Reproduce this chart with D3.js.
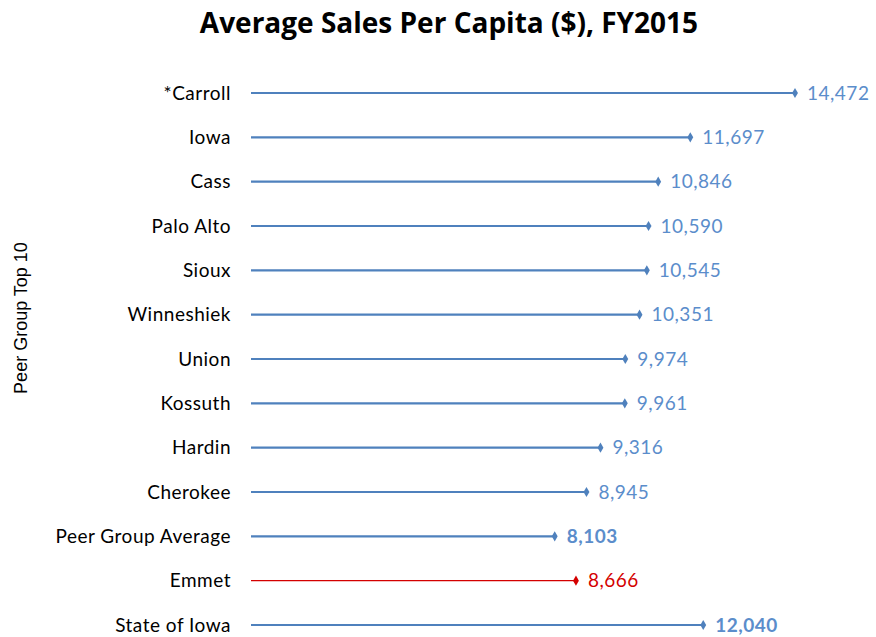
<!DOCTYPE html>
<html><head><meta charset="utf-8">
<script src="https://cdn.jsdelivr.net/npm/d3@7/dist/d3.min.js"></script>
<style>body{margin:0;background:#fff}</style>
</head><body>
<script>
const categories = ["*Carroll","Iowa","Cass","Palo Alto","Sioux","Winneshiek","Union","Kossuth","Hardin","Cherokee","Peer Group Average","Emmet","State of Iowa"];
const values = [14472,11697,10846,10590,10545,10351,9974,9961,9316,8945,8103,8666,12040];
const highlight = ["Emmet"];
const boldLabels = ["Peer Group Average","State of Iowa"];
const title = "Average Sales Per Capita ($), FY2015";
const yTitle = "Peer Group Top 10";

const W=876,H=637;
const svg=d3.select("body").append("svg").attr("width",W).attr("height",H);
const x=d3.scaleLinear().domain([0,14472]).range([249,795]);
const y=d3.scalePoint().domain(categories).range([93,625]);
const font="Lato, 'Open Sans', sans-serif";
const blue="#4F81BD", blueText="#5B8DCB", red="#D40000";

svg.append("text").attr("x",449).attr("y",33).attr("text-anchor","middle")
  .attr("font-family","'Open Sans', Lato, sans-serif").attr("font-weight","bold").attr("font-size",28).attr("fill","#000").text(title);

svg.append("text").attr("transform","translate(27,318) rotate(-90)").attr("text-anchor","middle")
  .attr("font-family","'Liberation Sans', Arial, sans-serif").attr("font-size",18).attr("fill","#000").text(yTitle);

const data=categories.map((c,i)=>({c,v:values[i]}));
const g=svg.append("g");
data.forEach(d=>{
  const isRed=highlight.includes(d.c);
  const col=isRed?red:blue;
  const yy=y(d.c);
  g.append("text").attr("x",231).attr("y",yy).attr("dy","0.35em").attr("text-anchor","end")
    .attr("font-family",font).attr("font-size",19).attr("letter-spacing",0.5).attr("fill","#000").text(d.c);
  g.append("line").attr("x1",x(0)+2).attr("x2",x(d.v)).attr("y1",yy).attr("y2",yy)
    .attr("stroke",col).attr("stroke-width",isRed?1.2:2.2);
  g.append("path").attr("d",d3.symbol().type(d3.symbolDiamond).size(30)())
    .attr("transform",`translate(${x(d.v)},${yy})`).attr("fill",col);
  g.append("text").attr("x",x(d.v)+12).attr("y",yy).attr("dy","0.35em")
    .attr("font-family",font).attr("font-size",19).attr("letter-spacing",0.5).attr("font-weight",boldLabels.includes(d.c)?"bold":"normal")
    .attr("fill",isRed?red:blueText).text(d3.format(",")(d.v));
});
</script>
</body></html>
